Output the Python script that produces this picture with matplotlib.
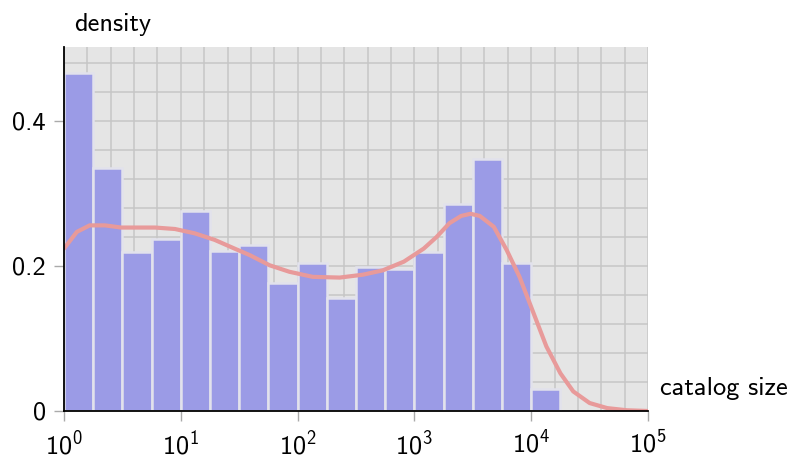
import numpy as np
import matplotlib
matplotlib.use("Agg")
import matplotlib.pyplot as plt
from matplotlib.ticker import FixedLocator, NullFormatter

plt.rcParams["font.family"] = ["cmss10", "DejaVu Sans"]
plt.rcParams["mathtext.fontset"] = "custom"
plt.rcParams["mathtext.rm"] = "cmss10"
plt.rcParams["mathtext.it"] = "cmss10"
plt.rcParams["mathtext.bf"] = "cmss10"
plt.rcParams["axes.unicode_minus"] = False
plt.rcParams["font.size"] = 19

# histogram of catalog sizes, 0.25-decade bins starting at 10^0
bin_width_dec = 0.25
bin_heights = [0.466, 0.335, 0.219, 0.237, 0.276, 0.221, 0.229, 0.177, 0.204,
               0.156, 0.199, 0.196, 0.219, 0.285, 0.348, 0.204, 0.030]

# smoothed density (log10 of catalog size, density)
kde_logx = [0.0, 0.11, 0.22, 0.35, 0.49, 0.78, 0.95, 1.12, 1.29, 1.46, 1.59,
            1.76, 1.93, 2.13, 2.36, 2.56, 2.73, 2.91, 3.08, 3.19, 3.30, 3.40,
            3.48, 3.56, 3.68, 3.79, 3.90, 4.02, 4.13, 4.25, 4.36, 4.50, 4.65,
            4.82, 5.0]
kde_dens = [0.224, 0.247, 0.256, 0.256, 0.253, 0.253, 0.251, 0.245, 0.236,
            0.224, 0.215, 0.201, 0.192, 0.185, 0.184, 0.188, 0.194, 0.206,
            0.224, 0.240, 0.259, 0.269, 0.272, 0.269, 0.254, 0.222, 0.185,
            0.135, 0.089, 0.052, 0.027, 0.011, 0.004, 0.001, 0.0]

bar_color = "#9b9be6"
line_color = "#e89a9a"

fig = plt.figure(figsize=(7.89, 4.59), dpi=100)
ax = fig.add_axes([64 / 789, 1 - 411 / 459, (648 - 64) / 789, (411 - 47) / 459])
ax.set_facecolor("#e5e5e5")

edges = 10 ** (np.arange(len(bin_heights) + 1) * bin_width_dec)
ax.bar(edges[:-1], bin_heights, width=np.diff(edges), align="edge",
       color=bar_color, edgecolor="#e2e2ec", linewidth=1.8, zorder=2)

ax.plot(10 ** np.array(kde_logx), kde_dens, color=line_color, lw=3.0,
        solid_capstyle="round", zorder=3)

ax.set_xscale("log")
ax.set_xlim(1, 1e5)
ax.set_ylim(0, 0.502)
ax.set_xticks([1, 10, 100, 1e3, 1e4, 1e5])
ax.xaxis.set_minor_locator(FixedLocator(10 ** np.arange(0, 5.01, 0.2)))
ax.xaxis.set_minor_formatter(NullFormatter())
ax.set_yticks([0, 0.2, 0.4])
ax.set_yticklabels(["0", "0.2", "0.4"])
ax.yaxis.set_minor_locator(FixedLocator(np.arange(0, 0.51, 0.04)))

ax.set_axisbelow(True)
ax.grid(True, which="both", color="#c6c6c6", linewidth=1.1)
ax.tick_params(which="major", length=7, width=1, color="#aaaaaa", pad=6)
ax.tick_params(which="minor", length=0)

for side in ("top", "right"):
    ax.spines[side].set_visible(False)
for side in ("left", "bottom"):
    ax.spines[side].set_color("black")
    ax.spines[side].set_linewidth(1.3)
    ax.spines[side].set_zorder(4)

ax.text(74 / 789, 1 - 25 / 459, "density", transform=fig.transFigure,
        ha="left", va="center")
ax.text(660 / 789, 1 - 389 / 459, "catalog size", transform=fig.transFigure,
        ha="left", va="center")

fig.savefig("out.png", dpi=100)
